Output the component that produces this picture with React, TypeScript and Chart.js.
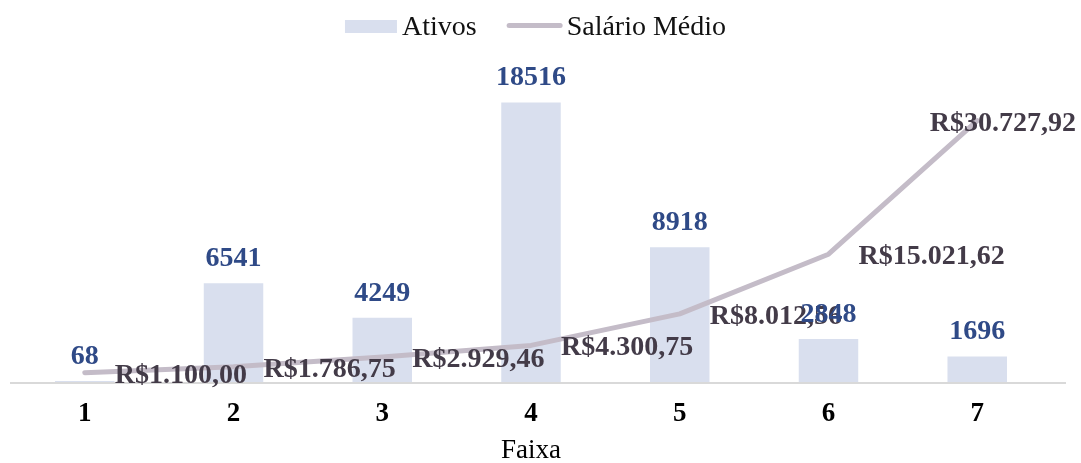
import React, { useEffect, useRef } from 'react';
import { Chart, registerables } from 'chart.js';

Chart.register(...registerables);

// ---- Data ----
const categories = ['1', '2', '3', '4', '5', '6', '7'];
const ativos = [68, 6541, 4249, 18516, 8918, 2848, 1696];
const salarioMedio = [1100.0, 1786.75, 2929.46, 4300.75, 8012.56, 15021.62, 30727.92];
const seriesNames = ['Ativos', 'Salário Médio'];
const xAxisTitle = 'Faixa';

// ---- Styles ----
const FONT = '"Liberation Serif", "Times New Roman", Times, serif';
const BAR_COLOR = '#D9DFEE';
const LINE_COLOR = '#C4BCC8';
const BAR_LABEL_COLOR = '#2F4A87';
const LINE_LABEL_COLOR = '#433B48';
const AXIS_COLOR = '#D9D9D9';

function formatBRL(v: number): string {
  const [i, d] = v.toFixed(2).split('.');
  const withDots = i.replace(/\B(?=(\d{3})+(?!\d))/g, '.');
  return 'R$' + withDots + ',' + d;
}

const axisLinePlugin = {
  id: 'axisLine',
  beforeDatasetsDraw(chart: any) {
    const { ctx, chartArea } = chart;
    ctx.save();
    ctx.strokeStyle = AXIS_COLOR;
    ctx.lineWidth = 2;
    ctx.beginPath();
    ctx.moveTo(10, chartArea.bottom + 1);
    ctx.lineTo(chart.width - 15, chartArea.bottom + 1);
    ctx.stroke();
    ctx.restore();
  },
};

const labelsPlugin = {
  id: 'valueLabels',
  afterDatasetsDraw(chart: any) {
    const { ctx } = chart;
    ctx.save();
    // line labels
    const lineMeta = chart.getDatasetMeta(1);
    ctx.font = `bold 28px ${FONT}`;
    ctx.fillStyle = LINE_LABEL_COLOR;
    ctx.textAlign = 'left';
    ctx.textBaseline = 'alphabetic';
    lineMeta.data.forEach((pt: any, i: number) => {
      const text = formatBRL(salarioMedio[i]);
      const w = ctx.measureText(text).width;
      let x = pt.x + 30;
      if (x + w > chart.width - 5) x = chart.width - 5 - w;
      ctx.fillText(text, x, pt.y + 10);
    });
    // bar labels
    const barMeta = chart.getDatasetMeta(0);
    ctx.fillStyle = BAR_LABEL_COLOR;
    ctx.textAlign = 'center';
    barMeta.data.forEach((bar: any, i: number) => {
      ctx.fillText(String(ativos[i]), bar.x, bar.y - 17);
    });
    ctx.restore();
  },
};

const legendPlugin = {
  id: 'customLegend',
  afterDraw(chart: any) {
    const { ctx } = chart;
    ctx.save();
    ctx.font = `28px ${FONT}`;
    const w1 = ctx.measureText(seriesNames[0]).width;
    const w2 = ctx.measureText(seriesNames[1]).width;
    const total = 52 + 5 + w1 + 30 + 56 + 4 + w2;
    let x = chart.width / 2 - 5 - total / 2;
    ctx.fillStyle = BAR_COLOR;
    ctx.fillRect(x, 20, 52, 13);
    x += 57;
    ctx.fillStyle = '#111111';
    ctx.textAlign = 'left';
    ctx.textBaseline = 'alphabetic';
    ctx.fillText(seriesNames[0], x, 35);
    x += w1 + 30;
    ctx.strokeStyle = LINE_COLOR;
    ctx.lineWidth = 5;
    ctx.lineCap = 'round';
    ctx.beginPath();
    ctx.moveTo(x + 2.5, 25.5);
    ctx.lineTo(x + 53.5, 25.5);
    ctx.stroke();
    x += 60;
    ctx.fillText(seriesNames[1], x, 35);
    ctx.restore();
  },
};

export default function App() {
  const canvasRef = useRef<HTMLCanvasElement | null>(null);

  useEffect(() => {
    if (!canvasRef.current) return;
    const chart = new Chart(canvasRef.current, {
      type: 'bar',
      data: {
        labels: categories,
        datasets: [
          {
            type: 'bar',
            label: seriesNames[0],
            data: ativos,
            backgroundColor: BAR_COLOR,
            borderWidth: 0,
            barPercentage: 0.4,
            categoryPercentage: 1,
            yAxisID: 'y',
            order: 1,
          } as any,
          {
            type: 'line',
            label: seriesNames[1],
            data: salarioMedio,
            borderColor: LINE_COLOR,
            backgroundColor: LINE_COLOR,
            borderWidth: 5,
            pointRadius: 0,
            tension: 0,
            borderCapStyle: 'round',
            borderJoinStyle: 'round',
            yAxisID: 'y1',
            order: 0,
          } as any,
        ],
      },
      options: {
        responsive: false,
        animation: false,
        devicePixelRatio: 1,
        layout: { padding: { top: 80, left: 10.4, right: 29.4, bottom: 0 } },
        plugins: {
          legend: { display: false },
          tooltip: { enabled: false },
        },
        scales: {
          x: {
            type: 'category',
            grid: { display: false, drawTicks: false },
            border: { display: false },
            ticks: {
              color: '#000000',
              font: { family: FONT, size: 27, weight: 'bold', lineHeight: 1.2 },
              padding: 16,
            },
            title: {
              display: true,
              text: xAxisTitle,
              color: '#000000',
              font: { family: FONT, size: 27, lineHeight: 0.9 },
              padding: { top: 0, bottom: 0 },
            },
            afterFit: (scale: any) => {
              scale.height = 81;
            },
          },
          y: { display: false, min: 0, max: 20000 },
          y1: { display: false, min: 0, max: 35500, position: 'right' },
        },
      } as any,
      plugins: [axisLinePlugin, labelsPlugin, legendPlugin],
    });
    return () => chart.destroy();
  }, []);

  return (
    <div style={{ position: 'fixed', left: 0, top: 0, width: 1081, height: 463, background: '#ffffff' }}>
      <canvas ref={canvasRef} width={1081} height={463} style={{ display: 'block' }} />
    </div>
  );
}
